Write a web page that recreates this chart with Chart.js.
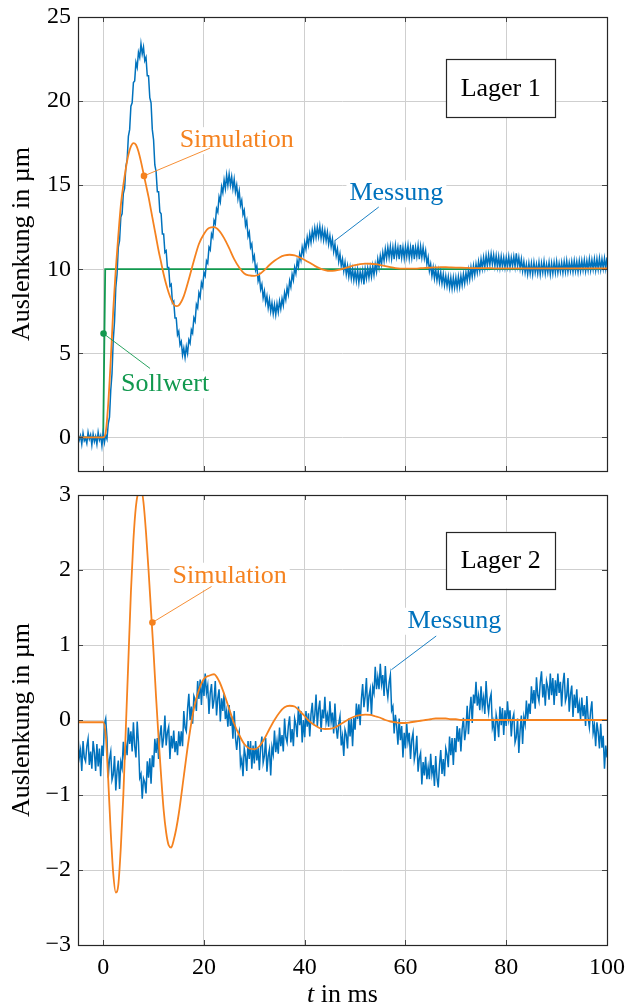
<!DOCTYPE html>
<html>
<head>
<meta charset="utf-8">
<script src="https://cdn.jsdelivr.net/npm/chart.js@4.4.1/dist/chart.umd.min.js"></script>
<style>
  html, body { margin: 0; padding: 0; background: #fff; }
  #wrap { position: relative; width: 628px; height: 1007px; }
  canvas { position: absolute; left: 0; }
</style>
</head>
<body>
<div id="wrap">
  <canvas id="lager1" width="628" height="480" style="top:0;width:628px;height:480px"></canvas>
  <canvas id="lager2" width="628" height="527" style="top:480px;width:628px;height:527px"></canvas>
</div>
<script>
// sampling of the measurement (ms)
const measStart = -5;
const measStep = 0.25;

// Lager 1, Messung in µm (one value every 0.25 ms from -5 to 100, 20 per row = 5 ms)
const mess1 = [
  0.2, -0.15, 0.1, -0.4, 0.25, -0.2, -0.05, -0.35, 0.3, -0.1, 0.15, -0.45, 0.2, -0.25, 0.05, -0.4, 0.3, -0.15, 0.1, -0.5,
  0.25, -0.3, 0.15, -0.1, 0.8, 1.2, 2.8, 3.8, 5.8, 6.9, 8.9, 9.7, 11.3, 11.7, 13.1, 13.3, 14.5, 14.8, 16.1, 16.5,
  17.9, 18.3, 19.7, 19.9, 21.1, 21.2, 22.3, 22.0, 22.9, 22.6, 23.4, 22.8, 23.2, 22.4, 22.6, 21.5, 21.5, 20.2, 19.9, 18.3,
  17.7, 16.2, 15.8, 14.6, 14.6, 13.4, 13.3, 12.1, 12.1, 11.0, 11.1, 10.1, 10.1, 9.0, 9.1, 8.0, 8.1, 7.1, 7.1, 6.1,
  6.3, 5.5, 5.7, 4.9, 5.3, 4.75, 5.4, 5.0, 5.8, 5.6, 6.4, 6.2, 7.1, 6.9, 7.9, 7.7, 8.6, 8.35, 9.2, 8.95,
  9.8, 9.6, 10.5, 10.35, 11.3, 11.15, 12.1, 11.9, 12.9, 12.7, 13.6, 13.4, 14.3, 14.0, 14.9, 14.55, 15.3, 14.8, 15.6, 15.0,
  15.65, 15.0, 15.5, 14.8, 15.35, 14.6, 15.0, 14.2, 14.65, 13.8, 14.1, 13.25, 13.5, 12.6, 12.9, 11.95, 12.2, 11.3, 11.5, 10.55,
  10.8, 9.95, 10.2, 9.3, 9.6, 8.8, 9.1, 8.3, 8.7, 8.0, 8.4, 7.7, 8.2, 7.5, 8.0, 7.35, 7.9, 7.3, 7.95, 7.45,
  8.1, 7.65, 8.25, 7.85, 8.6, 8.2, 8.9, 8.5, 9.3, 8.95, 9.7, 9.35, 10.1, 9.75, 10.5, 10.15, 10.9, 10.55, 11.3, 10.9,
  11.6, 11.2, 11.9, 11.45, 12.1, 11.6, 12.3, 11.8, 12.45, 11.9, 12.5, 11.95, 12.55, 11.85, 12.4, 11.75, 12.3, 11.7, 12.2, 11.5,
  12.0, 11.35, 11.8, 11.05, 11.5, 10.8, 11.2, 10.45, 10.9, 10.2, 10.6, 9.9, 10.4, 9.7, 10.2, 9.55, 10.1, 9.45, 10.0, 9.35,
  9.9, 9.3, 9.95, 9.2, 9.85, 9.35, 9.9, 9.1, 10.0, 9.45, 10.05, 9.5, 10.1, 9.55, 10.2, 9.65, 10.3, 9.85, 10.6, 10.1,
  10.8, 10.3, 11.0, 10.5, 11.2, 10.65, 11.3, 10.7, 11.35, 10.65, 11.3, 10.6, 11.4, 10.75, 11.3, 10.6, 11.45, 10.7, 11.3, 10.65,
  11.35, 10.75, 11.4, 10.65, 11.3, 10.7, 11.45, 10.6, 11.3, 10.75, 11.4, 10.6, 11.35, 10.7, 11.3, 10.65, 11.1, 10.3, 10.7, 9.9,
  10.3, 9.6, 10.1, 9.45, 10.0, 9.35, 9.9, 9.25, 9.8, 9.15, 9.7, 9.05, 9.6, 9.0, 9.55, 8.9, 9.5, 8.85, 9.5, 8.9,
  9.5, 8.9, 9.55, 8.95, 9.6, 9.05, 9.7, 9.15, 9.8, 9.3, 9.95, 9.4, 10.1, 9.55, 10.2, 9.65, 10.3, 9.8, 10.45, 9.9,
  10.6, 10.05, 10.7, 10.1, 10.8, 10.2, 10.85, 10.25, 10.9, 10.3, 10.85, 10.2, 10.8, 10.15, 10.75, 10.1, 10.75, 10.15, 10.7, 10.1,
  10.7, 10.15, 10.75, 10.1, 10.7, 10.2, 10.75, 10.15, 10.95, 10.2, 10.7, 10.05, 10.6, 9.9, 10.45, 9.8, 10.3, 9.7, 10.35, 9.75,
  10.35, 9.7, 10.4, 9.8, 10.3, 9.75, 10.4, 9.7, 10.35, 9.8, 10.45, 9.75, 10.3, 9.8, 10.4, 9.7, 10.35, 9.75, 10.4, 9.8,
  10.45, 9.8, 10.35, 9.85, 10.4, 9.8, 10.45, 9.85, 10.5, 9.85, 10.4, 9.9, 10.45, 9.85, 10.5, 9.9, 10.45, 9.85, 10.5, 9.9,
  10.5, 9.95, 10.55, 9.9, 10.5, 9.95, 10.6, 9.95, 10.55, 10.0, 10.6, 9.95, 10.6, 10.0, 10.65, 10.0, 10.6, 10.05, 10.65, 10.05,
  10.7
];

// Lager 2, Messung in µm (same sampling)
const mess2 = [
  -0.2, -0.5, -0.4, -0.68, -0.28, -0.5, -0.55, -0.35, -0.25, -0.6, -0.42, -0.65, -0.28, -0.43, -0.68, -0.32, -0.62, -0.38, -0.75, -0.34,
  -0.48, -0.05, 0.02, -0.24, -0.77, -0.52, -0.42, -0.8, -0.73, -0.48, -0.94, -0.68, -0.54, -0.92, -0.56, -0.64, -0.29, -0.53, -0.33, -0.47,
  -0.1, -0.32, -0.15, -0.42, -0.03, -0.35, -0.5, -0.02, -0.3, -0.77, -0.72, -1.05, -0.78, -0.83, -0.98, -0.55, -0.77, -0.51, -0.85, -0.47,
  -0.63, -0.25, -0.44, -0.24, -0.52, -0.22, -0.07, -0.37, -0.23, 0.06, -0.34, -0.16, -0.09, -0.52, -0.21, -0.38, -0.14, -0.43, -0.28, -0.47,
  -0.15, -0.35, -0.15, -0.35, 0.12, -0.1, -0.15, 0.15, 0.35, 0.0, 0.18, -0.05, 0.32, 0.27, 0.12, 0.52, 0.28, 0.54, 0.2, 0.53,
  0.32, 0.62, 0.36, 0.46, 0.08, 0.36, 0.48, 0.15, 0.27, 0.52, 0.06, 0.29, 0.41, -0.02, 0.29, 0.12, 0.36, 0.01, 0.12, -0.09,
  0.2, -0.08, 0.05, -0.25, 0.12, -0.23, -0.4, -0.22, -0.15, -0.6, -0.52, -0.75, -0.38, -0.48, -0.68, -0.28, -0.52, -0.28, -0.65, -0.34,
  -0.58, -0.28, -0.54, -0.37, -0.67, -0.36, -0.22, -0.57, -0.48, -0.24, -0.69, -0.48, -0.39, -0.74, -0.36, -0.46, -0.14, -0.43, -0.28, -0.45,
  -0.1, -0.35, -0.2, -0.42, 0.02, -0.23, -0.3, -0.08, 0.05, -0.3, -0.12, -0.35, 0.02, -0.06, -0.23, 0.18, -0.07, 0.12, -0.3, 0.0,
  -0.23, 0.12, -0.09, 0.09, -0.22, 0.08, 0.23, -0.07, 0.07, 0.34, -0.09, 0.14, 0.26, -0.16, 0.14, 0.02, 0.31, -0.03, 0.07, -0.09,
  0.25, -0.02, 0.1, -0.18, 0.22, -0.1, -0.25, -0.05, 0.05, -0.34, -0.22, -0.48, -0.13, -0.2, -0.38, 0.02, -0.22, 0.02, -0.35, 0.03,
  -0.13, 0.22, 0.01, 0.21, -0.07, 0.28, 0.48, 0.17, 0.32, 0.56, 0.11, 0.32, 0.41, 0.06, 0.44, 0.36, 0.71, 0.41, 0.57, 0.41,
  0.75, 0.48, 0.6, 0.32, 0.72, 0.43, 0.3, 0.5, 0.6, 0.13, 0.18, -0.18, 0.07, -0.08, -0.33, 0.02, -0.27, -0.08, -0.5, -0.17,
  -0.38, -0.05, -0.29, -0.17, -0.52, -0.26, -0.17, -0.53, -0.43, -0.21, -0.69, -0.51, -0.44, -0.86, -0.56, -0.74, -0.49, -0.79, -0.63, -0.79,
  -0.45, -0.72, -0.6, -0.88, -0.48, -0.77, -0.9, -0.6, -0.4, -0.72, -0.52, -0.75, -0.38, -0.46, -0.63, -0.22, -0.47, -0.24, -0.6, -0.24,
  -0.43, -0.08, -0.29, -0.11, -0.42, -0.12, 0.03, -0.27, -0.13, 0.19, -0.19, 0.12, 0.31, -0.04, 0.34, 0.22, 0.51, 0.19, 0.32, 0.13,
  0.45, 0.18, 0.3, 0.08, 0.52, 0.23, 0.1, 0.28, 0.35, -0.1, -0.02, -0.28, 0.07, -0.03, -0.23, 0.18, -0.07, 0.16, -0.2, 0.13,
  -0.08, 0.25, 0.01, 0.13, -0.22, 0.01, 0.08, -0.3, -0.23, 0.02, -0.44, -0.14, 0.06, -0.32, 0.04, -0.06, 0.26, 0.01, 0.22, 0.08,
  0.45, 0.22, 0.4, 0.15, 0.57, 0.33, 0.25, 0.5, 0.65, 0.3, 0.48, 0.19, 0.52, 0.44, 0.27, 0.62, 0.33, 0.56, 0.2, 0.53,
  0.32, 0.62, 0.36, 0.51, 0.18, 0.48, 0.63, 0.25, 0.32, 0.56, 0.11, 0.34, 0.46, 0.04, 0.34, 0.16, 0.41, 0.09, 0.22, 0.01,
  0.3, 0.05, 0.2, -0.08, 0.32, 0.03, -0.1, 0.12, 0.25, -0.17, -0.07, -0.35, -0.03, -0.16, -0.38, -0.05, -0.37, -0.21, -0.65, -0.34,
  -0.5
];

// Simulation time points (ms)
const simTime = [
  -5, -1, 0, 0.5, 1, 1.5, 2, 2.5, 3, 3.5, 4, 4.5, 5, 5.5, 6, 6.5,
  7, 7.5, 8, 8.5, 9, 9.5, 10, 10.5, 11, 11.5, 12, 12.5, 13, 13.5, 14, 14.5,
  15, 16, 17, 18, 19, 20, 21, 22, 23, 24, 25, 26, 27, 28, 29, 30,
  31, 32, 33, 34, 35, 36, 37, 38, 39, 40, 41, 42, 43, 44, 45, 46,
  47, 48, 49, 50, 51, 52, 53, 54, 55, 56, 57, 58, 59, 60, 61, 62,
  63, 64, 65, 66, 67, 68, 69, 70, 71, 72, 73, 74, 75, 76, 77, 78,
  79, 80, 81, 82, 83, 84, 85, 86, 87, 88, 89, 90, 91, 92, 93, 94,
  95, 96, 97, 98, 99, 100
];

// Lager 1, Simulation in µm
const sim1 = [
  0, 0, 0, 0.3, 2.0, 4.6, 7.6, 10.0, 12.0, 13.8, 15.0, 16.0, 16.8, 17.3, 17.5, 17.4,
  17.0, 16.4, 15.7, 15.0, 14.3, 13.5, 12.7, 11.9, 11.1, 10.4, 9.7, 9.1, 8.6, 8.2, 7.9, 7.8,
  7.85, 8.4, 9.4, 10.5, 11.5, 12.1, 12.45, 12.5, 12.3, 11.85, 11.25, 10.6, 10.1, 9.75, 9.63, 9.6,
  9.7, 9.95, 10.25, 10.5, 10.7, 10.82, 10.86, 10.82, 10.7, 10.55, 10.38, 10.2, 10.05, 9.95, 9.9, 9.92,
  9.98, 10.07, 10.16, 10.24, 10.3, 10.33, 10.325, 10.3, 10.25, 10.18, 10.12, 10.07, 10.04, 10.03, 10.03, 10.04,
  10.06, 10.08, 10.1, 10.11, 10.12, 10.12, 10.11, 10.1, 10.09, 10.08, 10.07, 10.07, 10.06, 10.06, 10.06, 10.05,
  10.05, 10.05, 10.05, 10.05, 10.05, 10.05, 10.05, 10.05, 10.05, 10.05, 10.05, 10.05, 10.05, 10.05, 10.05, 10.05,
  10.05, 10.05, 10.05, 10.05, 10.05, 10.05
];

// Lager 2, Simulation in µm
const sim2 = [
  -0.03, -0.03, -0.03, -0.2, -0.8, -1.5, -2.05, -2.3, -2.2, -1.7, -1.0, -0.1, 0.8, 1.7, 2.4, 2.85,
  3.05, 3.1, 2.9, 2.5, 2.0, 1.45, 0.9, 0.3, -0.25, -0.75, -1.2, -1.5, -1.67, -1.7, -1.6, -1.45,
  -1.25, -0.75, -0.25, 0.15, 0.4, 0.55, 0.59, 0.61, 0.52, 0.35, 0.15, -0.05, -0.2, -0.32, -0.38, -0.39,
  -0.35, -0.25, -0.12, 0.0, 0.1, 0.17, 0.19, 0.18, 0.12, 0.05, -0.02, -0.07, -0.11, -0.12, -0.118, -0.1,
  -0.06, -0.02, 0.02, 0.05, 0.065, 0.072, 0.068, 0.05, 0.03, 0.0, -0.02, -0.03, -0.04, -0.04, -0.03, -0.02,
  -0.01, 0.0, 0.01, 0.02, 0.02, 0.02, 0.01, 0.01, 0, 0, 0, 0, 0, 0, 0, 0,
  0, 0, 0, 0, 0, 0, 0, 0, 0, 0, 0, 0, 0, 0, 0, 0,
  0, 0, 0, 0, 0, 0
];

// Lager 1, Sollwert (step)
const sollTime = [-5, 0, 0.4, 100];
const soll = [0, 0, 10, 10];

const xTicks = [0, 20, 40, 60, 80, 100];
const yTicks1 = [0, 5, 10, 15, 20, 25];
const yTicks2 = [-3, -2, -1, 0, 1, 2, 3];

const BLUE = "#0072bd";
const ORANGE = "#f5821f";
const GREEN = "#12994f";
const FONT = '"Liberation Serif", "Times New Roman", serif';

Chart.defaults.font.family = FONT;
Chart.defaults.font.size = 24;
Chart.defaults.color = "#000";

function toPoints(xs, ys) {
  return ys.map((y, i) => ({ x: xs[i], y: y }));
}
function measPoints(ys) {
  return ys.map((y, i) => ({ x: measStart + i * measStep, y: y }));
}

const decor = {
  id: "decor",
  afterDatasetsDraw(chart, args, o) {
    const ctx = chart.ctx;
    const a = chart.chartArea;
    const xs = chart.scales.x;
    const ys = chart.scales.y;
    const P = (p) => [xs.getPixelForValue(p[0]), ys.getPixelForValue(p[1])];
    ctx.save();

    // small inward tick marks
    ctx.strokeStyle = "#444";
    ctx.lineWidth = 1;
    ctx.beginPath();
    xTicks.forEach((v) => {
      const px = Math.round(xs.getPixelForValue(v)) + 0.5;
      ctx.moveTo(px, a.bottom); ctx.lineTo(px, a.bottom - 5);
      ctx.moveTo(px, a.top); ctx.lineTo(px, a.top + 5);
    });
    o.yTicks.forEach((v) => {
      const py = Math.round(ys.getPixelForValue(v)) + 0.5;
      ctx.moveTo(a.left, py); ctx.lineTo(a.left + 5, py);
      ctx.moveTo(a.right, py); ctx.lineTo(a.right - 5, py);
    });
    ctx.stroke();

    // frame
    ctx.strokeStyle = "#262626";
    ctx.lineWidth = 1.2;
    ctx.strokeRect(Math.round(a.left) + 0.5, Math.round(a.top) + 0.5,
      Math.round(a.right - a.left), Math.round(a.bottom - a.top));

    // labelled pins
    ctx.font = "26px " + FONT;
    o.notes.forEach((n) => {
      const [x0, y0] = P(n.from);
      const [x1, y1] = P(n.to);
      const [tx, ty] = P(n.at);
      const w = ctx.measureText(n.text).width;
      ctx.fillStyle = "#fff";
      ctx.fillRect(tx - w / 2 - 3, ty - 20, w + 6, 27);
      ctx.strokeStyle = n.color;
      ctx.lineWidth = 0.9;
      ctx.beginPath(); ctx.moveTo(x0, y0); ctx.lineTo(x1, y1); ctx.stroke();
      if (n.dot) {
        ctx.fillStyle = n.color;
        ctx.beginPath(); ctx.arc(x0, y0, 3.3, 0, Math.PI * 2); ctx.fill();
      }
      ctx.fillStyle = n.color;
      ctx.textAlign = "center";
      ctx.textBaseline = "alphabetic";
      ctx.fillText(n.text, tx, ty);
    });

    // bearing box
    const b = o.box;
    const [bx0, by0] = P([b.x0, b.y1]);
    const [bx1, by1] = P([b.x1, b.y0]);
    ctx.fillStyle = "#fff";
    ctx.fillRect(bx0, by0, bx1 - bx0, by1 - by0);
    ctx.strokeStyle = "#262626";
    ctx.lineWidth = 1.2;
    ctx.strokeRect(Math.round(bx0) + 0.5, Math.round(by0) + 0.5, Math.round(bx1 - bx0), Math.round(by1 - by0));
    ctx.fillStyle = "#000";
    ctx.textAlign = "center";
    ctx.textBaseline = "middle";
    ctx.fillText(b.text, (bx0 + bx1) / 2, (by0 + by1) / 2 + 1);

    // y axis title
    ctx.save();
    ctx.translate(22, (a.top + a.bottom) / 2);
    ctx.rotate(-Math.PI / 2);
    ctx.fillStyle = "#000";
    ctx.textAlign = "center";
    ctx.textBaseline = "middle";
    ctx.fillText("Auslenkung in \u00b5m", 0, 0);
    ctx.restore();

    // x axis title
    if (o.xTitle) {
      const cx = (a.left + a.right) / 2;
      const cy = a.bottom + 50;
      ctx.font = "italic 26px " + FONT;
      const wt = ctx.measureText("t").width;
      ctx.font = "26px " + FONT;
      const wr = ctx.measureText(" in ms").width;
      const start = cx - (wt + wr) / 2;
      ctx.textAlign = "left";
      ctx.textBaseline = "middle";
      ctx.font = "italic 26px " + FONT;
      ctx.fillText("t", start, cy);
      ctx.font = "26px " + FONT;
      ctx.fillText(" in ms", start + wt, cy);
    }
    ctx.restore();
  }
};

function makePanel(id, datasets, yMin, yMax, yTicks, showX, padTop, xHeight, decorOpts) {
  return new Chart(document.getElementById(id), {
    type: "line",
    data: { datasets: datasets },
    options: {
      responsive: false,
      animation: false,
      devicePixelRatio: 1,
      layout: { padding: { top: padTop, right: 21, bottom: 0, left: 0 } },
      plugins: { legend: { display: false }, tooltip: { enabled: false }, decor: decorOpts },
      elements: { point: { radius: 0 } },
      scales: {
        x: {
          type: "linear",
          min: -5,
          max: 100,
          afterBuildTicks: (s) => { s.ticks = xTicks.map((v) => ({ value: v })); },
          afterFit: (s) => { s.height = xHeight; s.paddingLeft = 0; s.paddingRight = 0; },
          grid: { color: "#cfcfcf", lineWidth: 1, drawTicks: false },
          border: { display: false },
          ticks: { display: showX, padding: 8, maxRotation: 0 }
        },
        y: {
          type: "linear",
          min: yMin,
          max: yMax,
          afterBuildTicks: (s) => { s.ticks = yTicks.map((v) => ({ value: v })); },
          afterFit: (s) => { s.width = 78; s.paddingTop = 0; s.paddingBottom = 0; },
          grid: { color: "#cfcfcf", lineWidth: 1, drawTicks: false },
          border: { display: false },
          ticks: {
            padding: 7,
            callback: (v) => String(v).replace("-", "\u2212")
          }
        }
      }
    },
    plugins: [decor]
  });
}

makePanel("lager1", [
  { data: toPoints(sollTime, soll), borderColor: GREEN, borderWidth: 1.8, tension: 0, order: 3 },
  { data: measPoints(mess1), borderColor: BLUE, borderWidth: 1.5, tension: 0, order: 2 },
  { data: toPoints(simTime, sim1), borderColor: ORANGE, borderWidth: 1.8, cubicInterpolationMode: "monotone", order: 1 }
], -2, 25, yTicks1, false, 17, 9, {
  yTicks: yTicks1,
  xTitle: false,
  notes: [
    { text: "Simulation", color: ORANGE, dot: true, from: [8.1, 15.55], to: [21.2, 17.2], at: [26.5, 17.26] },
    { text: "Messung", color: BLUE, dot: false, from: [45.9, 11.68], to: [54.7, 13.7], at: [58.2, 14.1] },
    { text: "Sollwert", color: GREEN, dot: true, from: [0.07, 6.17], to: [9.3, 4.1], at: [12.3, 2.74] }
  ],
  box: { text: "Lager 1", x0: 68.1, x1: 89.7, y0: 19.05, y1: 22.5 }
});

makePanel("lager2", [
  { data: measPoints(mess2), borderColor: BLUE, borderWidth: 1.5, tension: 0, order: 2 },
  { data: toPoints(simTime, sim2), borderColor: ORANGE, borderWidth: 1.8, cubicInterpolationMode: "monotone", order: 1 }
], -3, 3, yTicks2, true, 15, 62, {
  yTicks: yTicks2,
  xTitle: true,
  notes: [
    { text: "Simulation", color: ORANGE, dot: true, from: [9.77, 1.30], to: [21.5, 1.78], at: [25.1, 1.83] },
    { text: "Messung", color: BLUE, dot: false, from: [57.2, 0.67], to: [66.1, 1.12], at: [69.7, 1.23] }
  ],
  box: { text: "Lager 2", x0: 68.1, x1: 89.7, y0: 1.75, y1: 2.51 }
});
</script>
</body>
</html>
